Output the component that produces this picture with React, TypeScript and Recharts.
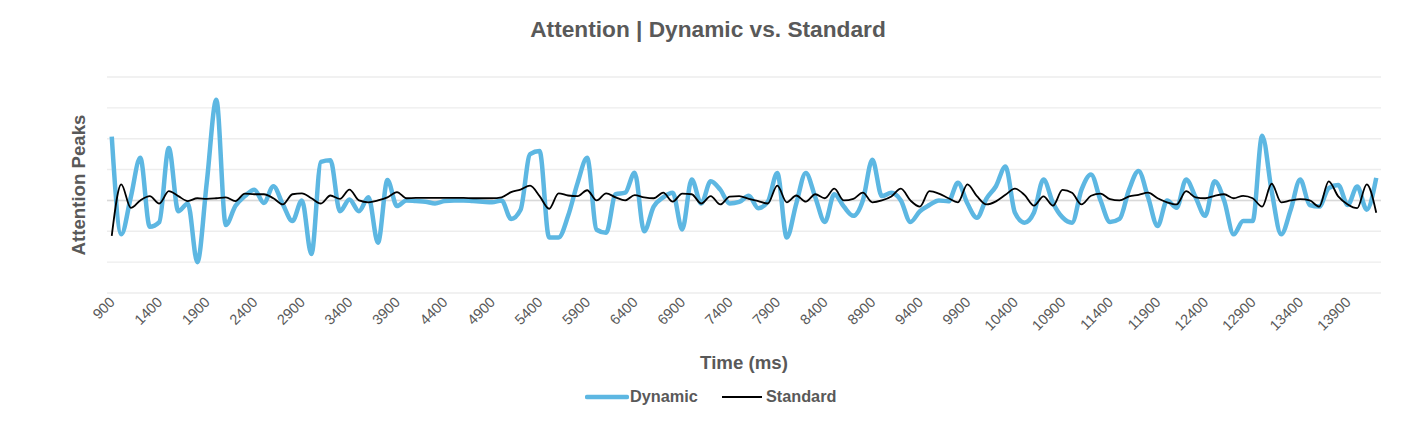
import React from "react";
import { LineChart, Line, XAxis, YAxis, CartesianGrid, ReferenceLine } from "recharts";

// time in ms, one sample every 100 ms
const timeMs = [
  900, 1000, 1100, 1200, 1300, 1400, 1500, 1600, 1700, 1800,
  1900, 2000, 2100, 2200, 2300, 2400, 2500, 2600, 2700, 2800,
  2900, 3000, 3100, 3200, 3300, 3400, 3500, 3600, 3700, 3800,
  3900, 4000, 4100, 4200, 4300, 4400, 4500, 4600, 4700, 4800,
  4900, 5000, 5100, 5200, 5300, 5400, 5500, 5600, 5700, 5800,
  5900, 6000, 6100, 6200, 6300, 6400, 6500, 6600, 6700, 6800,
  6900, 7000, 7100, 7200, 7300, 7400, 7500, 7600, 7700, 7800,
  7900, 8000, 8100, 8200, 8300, 8400, 8500, 8600, 8700, 8800,
  8900, 9000, 9100, 9200, 9300, 9400, 9500, 9600, 9700, 9800,
  9900, 10000, 10100, 10200, 10300, 10400, 10500, 10600, 10700, 10800,
  10900, 11000, 11100, 11200, 11300, 11400, 11500, 11600, 11700, 11800,
  11900, 12000, 12100, 12200, 12300, 12400, 12500, 12600, 12700, 12800,
  12900, 13000, 13100, 13200, 13300, 13400, 13500, 13600, 13700, 13800,
  13900, 14000, 14100, 14200,
];

const dynamic = [
  2.07, -1.1, 0.1, 1.38, -0.85, -0.7, 1.7, -0.35, -0.1, -2.0,
  0.6, 3.26, -0.8, -0.18, 0.14, 0.35, -0.08, 0.46, -0.13, -0.67,
  0.0, -1.74, 1.25, 1.3, -0.35, 0.03, -0.35, 0.1, -1.37, 0.66,
  -0.18, 0.0, -0.02, -0.04, -0.1, -0.02, 0.0, 0.0, -0.02, -0.04,
  -0.06, 0.0, -0.6, -0.3, 1.5, 1.6, -1.2, -1.2, -0.5, 0.57,
  1.38, -0.95, -1.05, 0.2, 0.25, 0.9, -1.0, -0.2, 0.1, 0.25,
  -0.94, 0.68, -0.1, 0.62, 0.35, -0.1, -0.05, 0.15, -0.25, -0.05,
  0.89, -1.2, -0.1, 0.89, 0.1, -0.7, 0.2, -0.2, -0.5, 0.0,
  1.32, 0.14, 0.25, 0.0, -0.7, -0.35, -0.15, 0.0, -0.03, 0.57,
  -0.1, -0.56, 0.06, 0.46, 1.1, -0.4, -0.72, -0.39, 0.68, -0.08,
  -0.55, -0.72, 0.35, 0.84, 0.0, -0.7, -0.6, 0.35, 0.95, 0.1,
  -0.83, 0.0, -0.24, 0.68, 0.1, -0.5, 0.62, 0.0, -1.1, -0.67,
  -0.67, 2.1, 0.3, -1.1, -0.3, 0.68, -0.15, -0.2, 0.4, 0.5,
  -0.15, 0.45, -0.3, 0.73,
];

const standard = [
  -1.15, 0.52, -0.24, 0.0, 0.14, -0.1, 0.3, 0.14, -0.02, 0.07,
  0.05, 0.07, 0.1, -0.02, 0.22, 0.2, 0.2, 0.07, -0.13, 0.2,
  0.23, 0.07, -0.1, 0.16, 0.05, 0.35, 0.0, -0.06, 0.0, 0.1,
  0.27, 0.07, 0.08, 0.08, 0.08, 0.08, 0.08, 0.08, 0.07, 0.07,
  0.07, 0.1, 0.27, 0.35, 0.48, 0.14, -0.27, 0.23, 0.16, 0.14,
  0.33, 0.0, 0.23, 0.1, 0.0, 0.17, 0.1, 0.07, 0.25, -0.04,
  0.22, 0.2, -0.1, 0.14, -0.13, 0.12, 0.14, 0.05, -0.02, -0.1,
  0.48, -0.06, 0.16, -0.04, 0.2, 0.07, 0.38, 0.0, 0.05, 0.25,
  -0.06, 0.0, 0.13, 0.38, 0.0, -0.2, 0.3, 0.22, 0.07, -0.06,
  0.52, 0.14, -0.13, -0.03, 0.18, 0.38, 0.18, -0.17, 0.13, -0.17,
  0.34, 0.25, -0.13, 0.15, 0.22, 0.04, 0.0, 0.13, 0.18, 0.25,
  0.07, -0.06, -0.13, 0.3, 0.1, 0.07, 0.15, 0.2, 0.07, 0.15,
  0.07, -0.2, 0.54, -0.06, 0.0, 0.04, 0.0, -0.2, 0.62, 0.13,
  -0.13, -0.25, 0.52, -0.4,
];

const yTicks = [-3, -2, -1, 0, 1, 2, 3, 4];

const data = timeMs.map((t, i) => ({ t, dynamic: dynamic[i], standard: standard[i] }));

const TEXT = "#595959";
const BLUE = "#5DB7E2";
const FONT = "'Liberation Sans', Arial, sans-serif";

const AngledTick = (props: any) => {
  const { x, y, payload } = props;
  return (
    <text
      x={x + 4}
      y={y + 2}
      transform={`rotate(-45, ${x + 4}, ${y + 2})`}
      textAnchor="end"
      fill={TEXT}
      fontSize={14.5}
      fontFamily={FONT}
    >
      {payload.value}
    </text>
  );
};

export default function App() {
  return (
    <div style={{ position: "relative", width: 1400, height: 409, fontFamily: FONT, background: "#fff" }}>
      {/* title */}
      <div
        style={{
          position: "absolute", top: 8, left: 0, width: 1400, textAlign: "center",
          fontSize: 22.7, fontWeight: "bold", color: TEXT,
        }}
      >
        Attention | Dynamic vs. Standard
      </div>

      <LineChart
        width={1400}
        height={409}
        data={data}
        margin={{ top: 69, right: 27, bottom: 74, left: 99 }}
      >
        <CartesianGrid vertical={false} stroke="#EDEDED" strokeWidth={1.4} />
        <XAxis
          dataKey="t"
          interval={4}
          axisLine={false}
          tickLine={false}
          height={50}
          padding={{ left: 4.75, right: 4.75 }}
          tick={<AngledTick />}
        />
        <YAxis hide domain={[-3, 4]} ticks={yTicks} />
        <ReferenceLine y={0} stroke="#D9D9D9" strokeWidth={1.4} />
        <Line
          type="monotone"
          dataKey="dynamic"
          stroke={BLUE}
          strokeWidth={4.5}
          dot={false}
          isAnimationActive={false}
        />
        <Line
          type="monotone"
          dataKey="standard"
          stroke="#000"
          strokeWidth={1.8}
          dot={false}
          isAnimationActive={false}
        />
      </LineChart>

      {/* axis titles */}
      <div
        style={{
          position: "absolute", left: 71, top: 177, width: 0, height: 0,
        }}
      >
        <div
          style={{
            position: "absolute", left: 0, top: 0, transform: "translate(-50%, -50%) rotate(-90deg)",
            whiteSpace: "nowrap", fontSize: 18.67, fontWeight: "bold", color: TEXT,
          }}
        >
          Attention Peaks
        </div>
      </div>
      <div
        style={{
          position: "absolute", top: 344, left: 99, width: 1274, textAlign: "center",
          fontSize: 18.67, fontWeight: "bold", color: TEXT,
        }}
      >
        Time (ms)
      </div>

      {/* legend */}
      <div
        style={{
          position: "absolute", top: 379, left: 577, display: "flex", alignItems: "center",
          fontSize: 16.3, fontWeight: "bold", color: TEXT,
        }}
      >
        <svg width={44} height={10}>
          <line x1={2} y1={5} x2={42} y2={5} stroke={BLUE} strokeWidth={4.5} strokeLinecap="round" />
        </svg>
        <span style={{ marginLeft: 1 }}>Dynamic</span>
        <svg width={44} height={10} style={{ marginLeft: 22 }}>
          <line x1={2} y1={5} x2={42} y2={5} stroke="#000" strokeWidth={1.8} />
        </svg>
        <span style={{ marginLeft: 2 }}>Standard</span>
      </div>
    </div>
  );
}
